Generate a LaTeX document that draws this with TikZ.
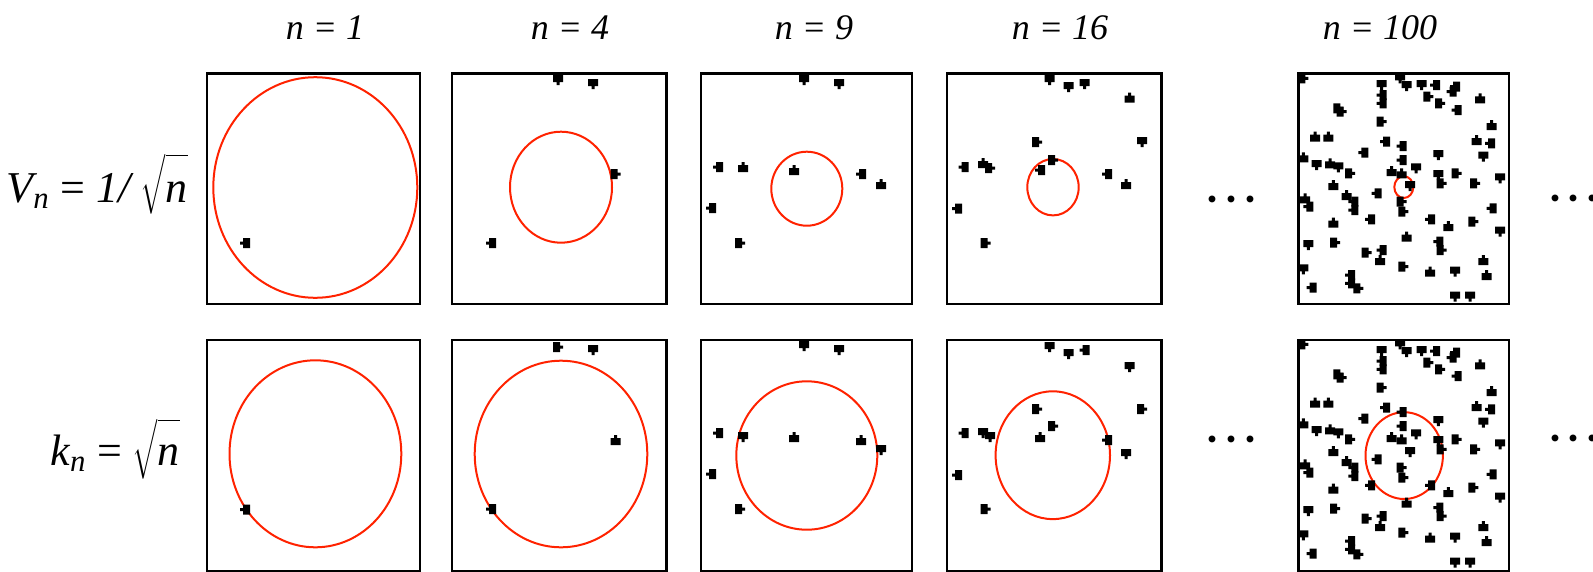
\RequirePackage{fix-cm}
\documentclass[tikz,border=0pt]{standalone}
\usepackage{amsmath}
\usepackage{fontspec}
\setmainfont{Liberation Serif}
\definecolor{circred}{RGB}{255,34,0}
\tikzset{
  panel/.style={draw=black, line width=2.3pt},
  ring/.style={draw=circred, line width=2pt},
  toplabel/.style={anchor=base, inner sep=0pt, font=\fontsize{36}{42}\selectfont\itshape},
  sidelabel/.style={anchor=base east, inner sep=0pt, font=\fontsize{44}{50}\selectfont},
  dotsnode/.style={anchor=base, inner sep=0pt, font=\fontsize{44}{50}\selectfont\boldmath},
}
\newcommand\mkshapeu{\fill (-5,-2) rectangle (5,5) (-1.5,-5) rectangle (1.5,-2);}
\newcommand\mkshaped{\fill (-5,-5) rectangle (5,2) (-1.5,2) rectangle (1.5,5);}
\newcommand\mkshapel{\fill (-2,-5) rectangle (5,5) (-5,-1.5) rectangle (-2,1.5);}
\newcommand\mkshaper{\fill (-5,-5) rectangle (2,5) (2,-1.5) rectangle (5,1.5);}
\newcommand\mymark[3]{\begin{scope}[shift={(#2,#3)}]\csname mkshape#1\endcsname\end{scope}}
\newcommand\mydots{$\cdotp\mkern-1.25mu\cdotp\mkern-1.25mu\cdotp$}
\newcommand\hundredpts{100/55/r,335/75/d,390/55/d,410/78/d,455/75/d,495/75/l,555/80/l,545/95/l,630/115/u,335/105/l,335/130/l,475/110/r,510/130/r,205/145/r,215/155/r,560/150/l,335/185/r,665/195/u,135/230/u,175/230/u,345/245/l,620/240/u,660/250/l,395/258/l,280/278/l,505/285/d,100/292/u,640/290/d,395/300/l,140/315/d,180/310/u,205/322/d,240/340/r,365/333/u,438/325/d,395/340/u,505/345/d,560/340/r,515/370/r,420/378/d,615/370/r,690/355/d,190/375/u,230/405/u,320/400/l,395/425/r,105/415/u,115/440/l,250/425/l,250/450/l,400/455/r,665/445/l,300/478/l,480/478/l,190/488/u,535/498/u,610/485/r,690/515/d,410/530/u,505/545/l,515/570/r,115/555/d,195/548/r,290/578/r,335/570/l,330/600/u,640/600/u,400/620/r,100/628/d,480/635/u,555/635/d,650/645/u,240/645/l,240/670/l,125/683/l,265/685/r,555/710/d,600/710/d}
\begin{document}
\begin{tikzpicture}[x=1pt,y=-1pt]
\useasboundingbox (0,0) rectangle (1593,571);
% column labels
\node[toplabel] (t1) at (325,39.5) {n = 1};
\node[toplabel] (t2) at (570,39.5) {n = 4};
\node[toplabel] (t3) at (814,39.5) {n = 9};
\node[toplabel] (t4) at (1060,39.5) {n = 16};
\node[toplabel] (t5) at (1380,39.5) {n = 100};
% row labels
\node[sidelabel] (vlabel) at (188,202) {$\textit{V}_{\textit{n}}$ = \textit{1/}\,$\sqrt{\rule[-0.2em]{0pt}{1.15em}\textit{n}}$};
\node[sidelabel] (klabel) at (180,465) {$\textit{k}_{\textit{n}}$ = $\sqrt{\rule[-0.2em]{0pt}{1.05em}\textit{n}}$};
% panels
\foreach \la/\ra in {207/420,452/666.5,701.3/912.2,947.2/1161.5,1298.5/1509.2}{
  \draw[panel] (\la,73.5) rectangle (\ra,304);
  \draw[panel] (\la,340) rectangle (\ra,571);
}
% circles row 1
\draw[ring] (315.3,187.5) ellipse [x radius=102, y radius=110.3];
\draw[ring] (561,187.2) ellipse [x radius=51, y radius=55.5];
\draw[ring] (806.8,188.7) ellipse [x radius=35.5, y radius=37];
\draw[ring] (1053,187.2) ellipse [x radius=25.7, y radius=28.2];
\draw[ring] (1403.8,187.1) ellipse [x radius=9.5, y radius=10.9];
% circles row 2
\draw[ring] (315.4,453.8) ellipse [x radius=85.9, y radius=93.5];
\draw[ring] (561,454) ellipse [x radius=86.3, y radius=93.3];
\draw[ring] (806.8,455.5) ellipse [x radius=70.5, y radius=74.2];
\draw[ring] (1052.8,455.2) ellipse [x radius=57.2, y radius=63.9];
\draw[ring] (1404.2,455.6) ellipse [x radius=38.7, y radius=43.4];
% sample points, row 1
\foreach \x/\y/\dr in {245/243/l,
  558/80/d,593/84/d,615.5/174/r,491/243/l,
  804/80/d,839/84/d,718/167/l,743/167/u,794/170/u,861/174/l,881/184/u,711/208/l,740/243/r,
  1049.5/80/d,1068.5/87/d,1084.5/84/d,1129.5/97.5/u,1142/142/d,1037/142/r,1053/160/r,1040/170/l,963.5/167/l,983/163/u,990/168/r,1107/174/l,1126/184/u,957/208.5/l,985.5/243/r}
  {\mymark{\dr}{\x}{\y}}
% sample points, row 2
\foreach \x/\y/\dr in {245/509.5/l,
  558/347/r,593/350/d,615.5/440/u,491/509/l,
  804/346/d,839/350/d,718/433/l,743/437/d,794/437/u,861/440/u,881/450/d,711/474/l,740/509/r,
  1049.5/347/d,1068.5/354/d,1084.5/350/l,1129.5/367/d,1142/409/r,1037/409/r,1053/426/r,1040/437/u,963.5/433/l,983/433/d,990/437/d,1107/440/l,1126/454/d,957/475/l,985.5/509/r}
  {\mymark{\dr}{\x}{\y}}
% n = 100
\foreach \x/\y/\dr in \hundredpts {\mymark{\dr}{1270+\x/3}{60+\y/3}}
\foreach \x/\y/\dr in \hundredpts {\mymark{\dr}{1270+\x/3}{326+\y/3}}
% ellipses
\node[dotsnode] (d1) at (1231.5,210.5) {\mydots};
\node[dotsnode] (d2) at (1231.5,450.5) {\mydots};
\node[dotsnode] (d3) at (1574,209.5) {\mydots};
\node[dotsnode] (d4) at (1574,449.5) {\mydots};
\end{tikzpicture}
\end{document}
